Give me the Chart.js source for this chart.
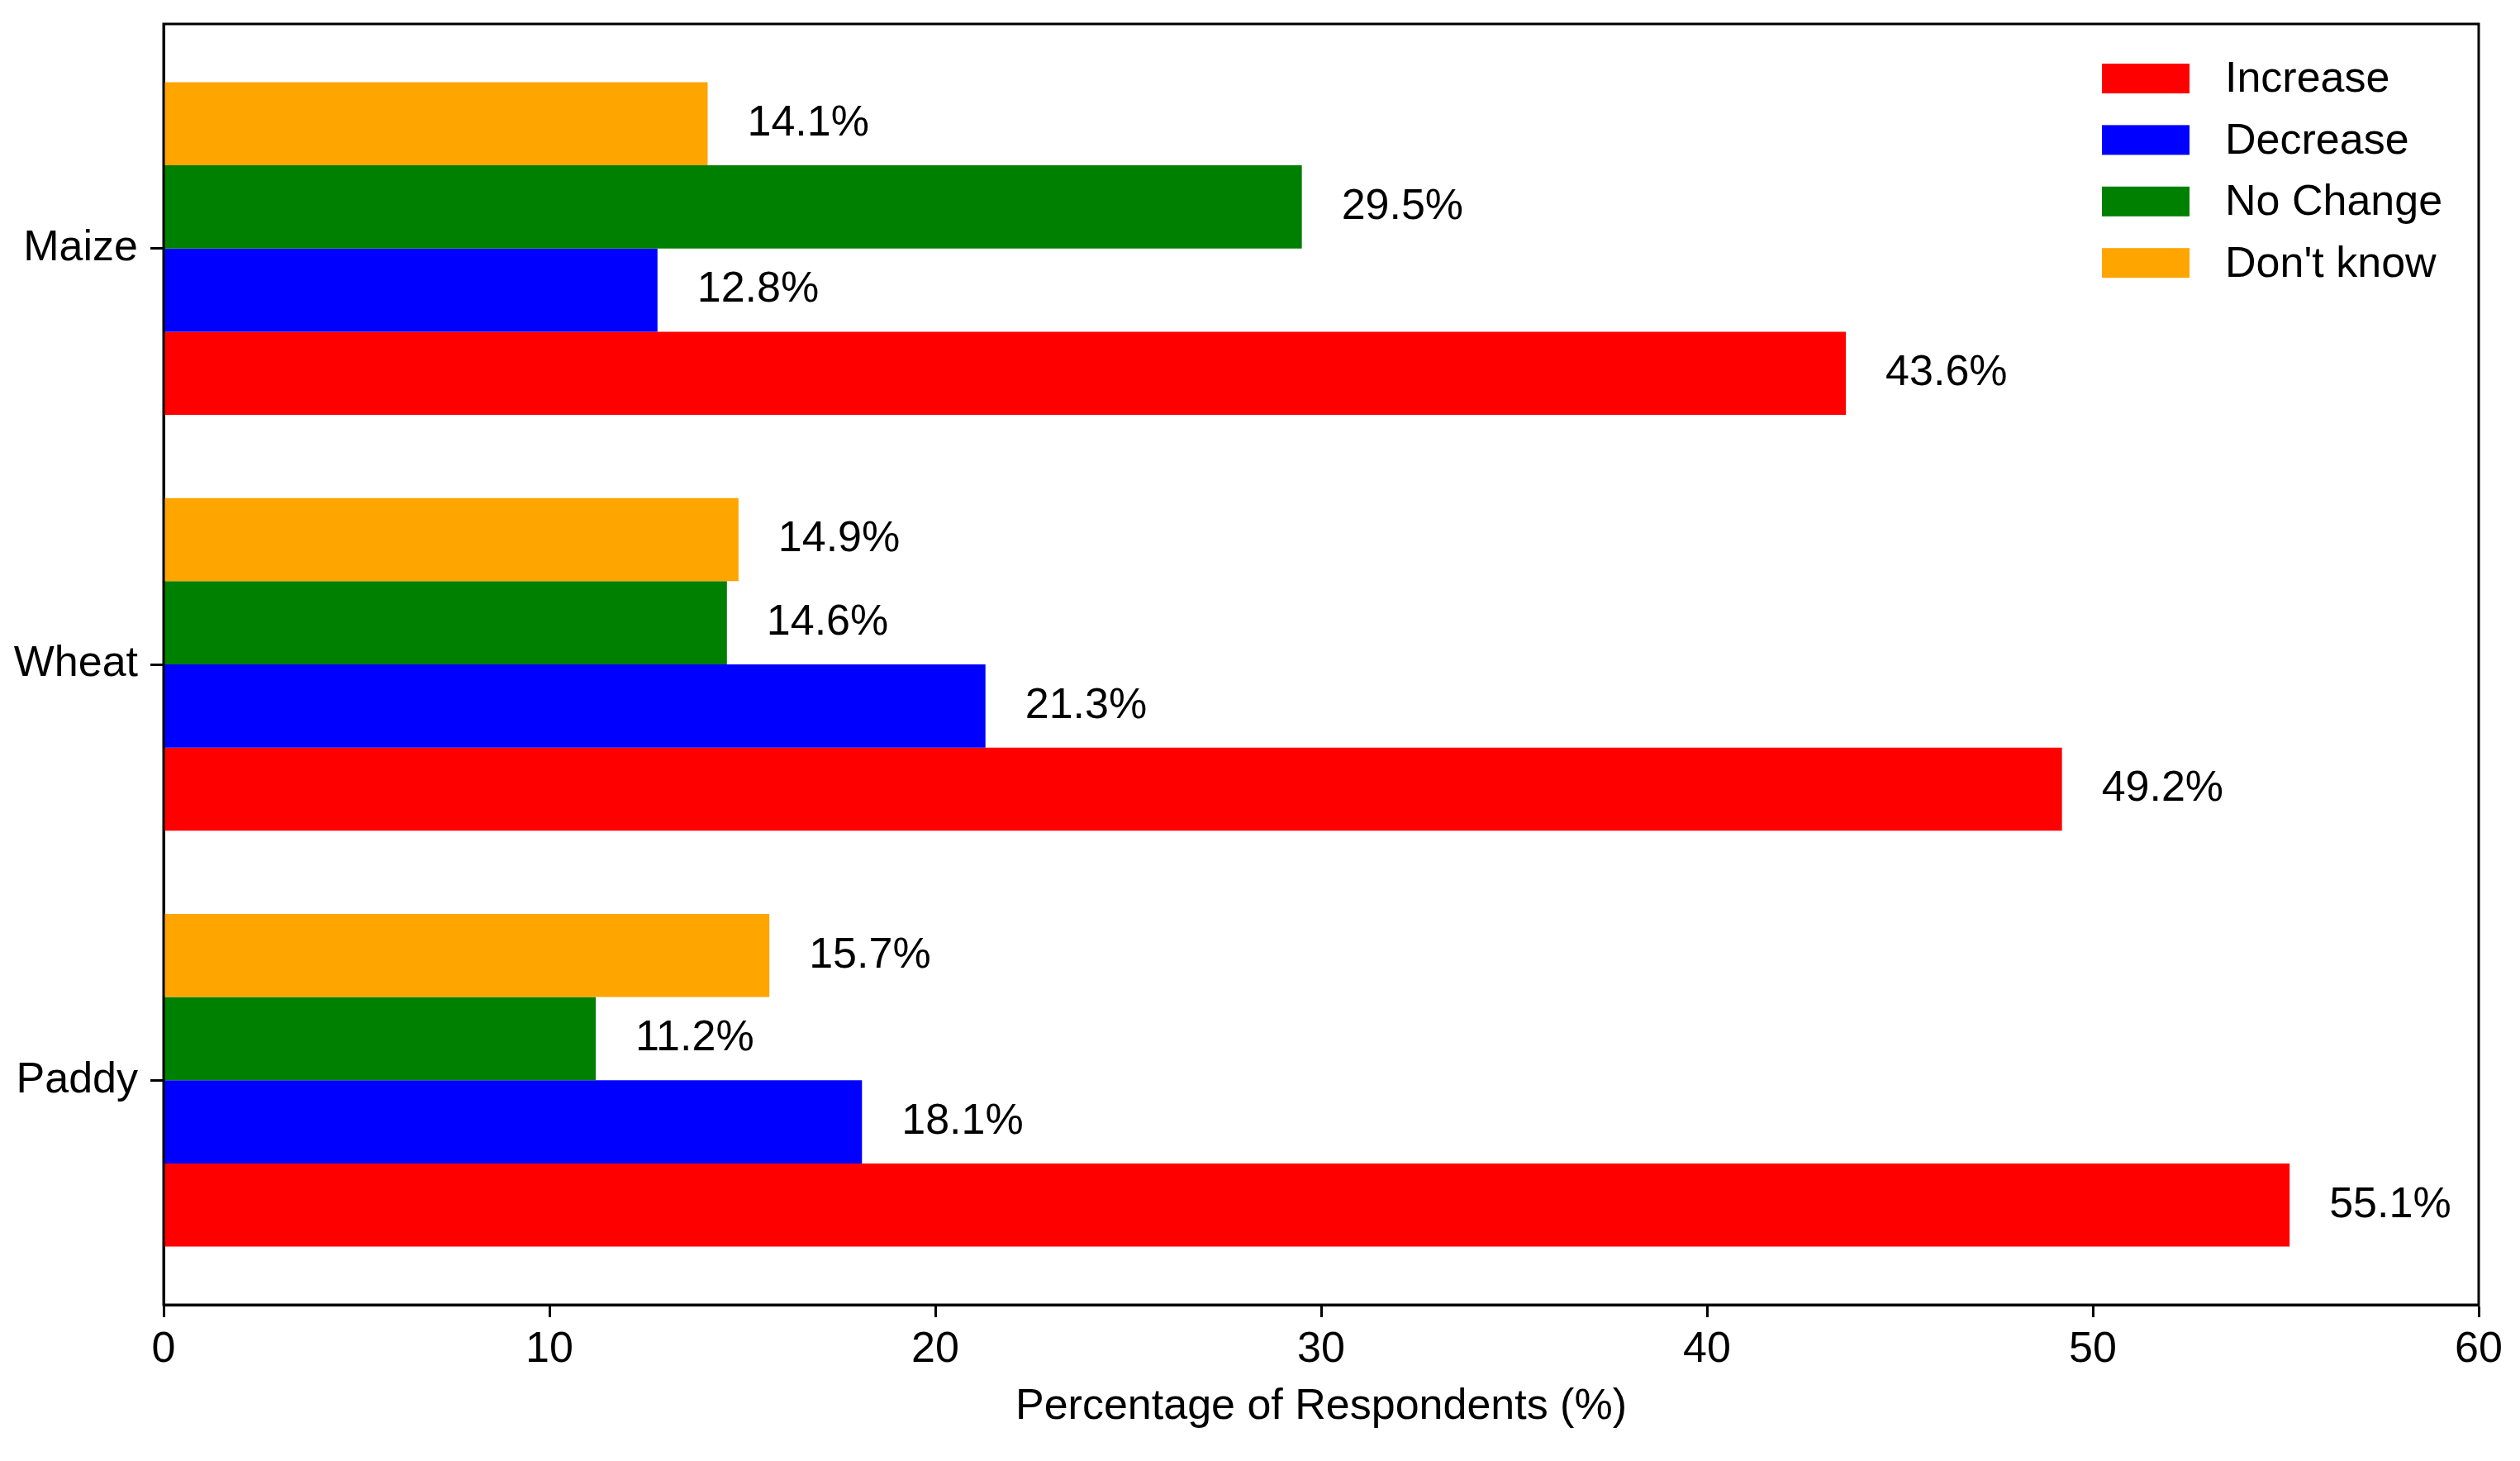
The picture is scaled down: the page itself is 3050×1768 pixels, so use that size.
<!DOCTYPE html>
<html><head><meta charset="utf-8">
<script src="https://cdn.jsdelivr.net/npm/chart.js@4.4.1/dist/chart.umd.min.js"></script>
<style>html,body{margin:0;padding:0;background:#fff;} canvas{display:block;}</style>
</head><body>
<canvas id="c" width="3050" height="1768" style="width:3050px;height:1768px"></canvas>
<script>
const categories = ['Maize', 'Wheat', 'Paddy'];
const seriesNames = ['Increase', 'Decrease', 'No Change', "Don't know"];
const seriesColors = ['#ff0000', '#0000ff', '#008000', '#ffa500'];
const increase = [43.6, 49.2, 55.1];
const decrease = [12.8, 21.3, 18.1];
const noChange = [29.5, 14.6, 11.2];
const dontKnow = [14.1, 14.9, 15.7];
const xTicks = [0, 10, 20, 30, 40, 50, 60];
const xTitle = 'Percentage of Respondents (%)';

const FONT = '"Liberation Sans", Arial, sans-serif';
const FS = 52;
Chart.defaults.font.family = FONT;
Chart.defaults.font.size = FS;
Chart.defaults.color = '#000';

const seriesValues = [increase, decrease, noChange, dontKnow];
// Chart.js puts the first dataset at the top of each group; the reference has "Increase" at the bottom.
const drawOrder = [3, 2, 1, 0];
const datasets = drawOrder.map(k => ({
  label: seriesNames[k],
  backgroundColor: seriesColors[k],
  borderWidth: 0,
  data: seriesValues[k].map((v, i) => ({ x: v, y: i }))
}));

const valueLabels = {
  id: 'valueLabels',
  afterDatasetsDraw(chart) {
    const ctx = chart.ctx;
    ctx.save();
    ctx.font = FS + 'px ' + FONT;
    ctx.fillStyle = '#000';
    ctx.textAlign = 'left';
    ctx.textBaseline = 'middle';
    chart.data.datasets.forEach((ds, i) => {
      const meta = chart.getDatasetMeta(i);
      meta.data.forEach((el, j) => {
        ctx.fillText(ds.data[j].x.toFixed(1) + '%', el.x + 48, el.y);
      });
    });
    ctx.restore();
  }
};

const frame = {
  id: 'frame',
  afterDraw(chart) {
    const { left, right, top, bottom } = chart.chartArea;
    const ctx = chart.ctx;
    ctx.save();
    ctx.strokeStyle = '#000';
    ctx.lineWidth = 3;
    ctx.strokeRect(left, top, right - left, bottom - top);
    ctx.restore();
  }
};

const legendBox = {
  id: 'legendBox',
  afterDraw(chart) {
    const { right, top } = chart.chartArea;
    const ctx = chart.ctx;
    ctx.save();
    ctx.font = FS + 'px ' + FONT;
    ctx.textAlign = 'left';
    ctx.textBaseline = 'middle';
    const handleX = right - 456, handleW = 106, handleH = 36, textX = right - 307;
    const rowY0 = top + 66, step = 74.4;
    seriesNames.forEach((name, k) => {
      const cy = rowY0 + k * step;
      ctx.fillStyle = seriesColors[k];
      ctx.fillRect(handleX, cy - handleH / 2, handleW, handleH);
      ctx.fillStyle = '#000';
      ctx.fillText(name, textX, cy + 2);
    });
    ctx.restore();
  }
};

new Chart(document.getElementById('c'), {
  type: 'bar',
  data: { datasets },
  plugins: [valueLabels, frame, legendBox],
  options: {
    indexAxis: 'y',
    responsive: false,
    devicePixelRatio: 1,
    animation: false,
    layout: { padding: { left: 0, right: 50, top: 29, bottom: 0 } },
    datasets: { bar: { categoryPercentage: 0.8, barPercentage: 1 } },
    plugins: { legend: { display: false }, tooltip: { enabled: false } },
    scales: {
      x: {
        type: 'linear', position: 'bottom', min: 0, max: 60, offset: false,
        afterBuildTicks: s => { s.ticks = xTicks.map(v => ({ value: v })); },
        ticks: { color: '#000', font: { size: FS }, padding: 8, maxRotation: 0, autoSkip: false },
        grid: { offset: false, drawOnChartArea: false, drawTicks: true, tickLength: 15, tickColor: '#000', tickWidth: 3 },
        border: { display: true, color: '#000', width: 3 },
        title: { display: true, text: xTitle, color: '#000', font: { size: FS }, padding: { top: 0, bottom: 34 } },
        afterFit: s => { s.height = 189; s.paddingLeft = 0; s.paddingRight = 0; }
      },
      y: {
        type: 'linear', position: 'left', min: -0.54, max: 2.54, reverse: true, offset: false,
        ticks: { stepSize: 1, includeBounds: false, autoSkip: false, color: '#000', font: { size: FS }, padding: 15,
                 callback: v => (categories[v] !== undefined ? categories[v] : '') },
        grid: { offset: false, drawOnChartArea: false, drawTicks: true, tickLength: 16, tickColor: '#000', tickWidth: 3 },
        border: { display: true, color: '#000', width: 3 },
        afterFit: s => { s.width = 198; s.paddingTop = 0; s.paddingBottom = 0; }
      }
    }
  }
});
</script>
</body></html>
